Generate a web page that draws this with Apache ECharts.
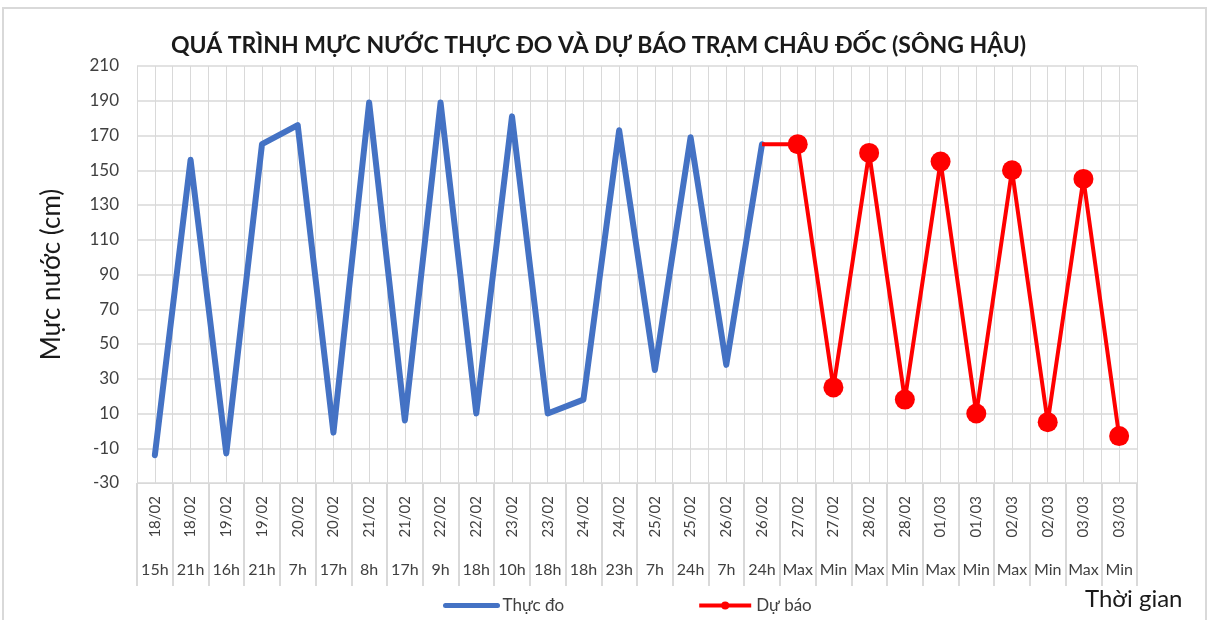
<!DOCTYPE html>
<html>
<head>
<meta charset="utf-8">
<title>Châu Đốc</title>
<script src="https://cdn.jsdelivr.net/npm/echarts@6/dist/echarts.min.js"></script>
<style>
  html, body { margin: 0; padding: 0; background: #fff; }
  #chart { width: 1209px; height: 620px; }
</style>
</head>
<body>
<div id="chart"></div>
<script>
// ngay / gio cua tung moc
const days = ['18/02', '18/02', '19/02', '19/02', '20/02', '20/02', '21/02', '21/02', '22/02', '22/02',
  '23/02', '23/02', '24/02', '24/02', '25/02', '25/02', '26/02', '26/02', '27/02', '27/02',
  '28/02', '28/02', '01/03', '01/03', '02/03', '02/03', '03/03', '03/03']
const hours = ['15h', '21h', '16h', '21h', '7h', '17h', '8h', '17h', '9h', '18h',
  '10h', '18h', '18h', '23h', '7h', '24h', '7h', '24h', 'Max', 'Min',
  'Max', 'Min', 'Max', 'Min', 'Max', 'Min', 'Max', 'Min']
// muc nuoc thuc do (cm)
const observed = [-14, 156, -13, 165, 176, -1, 189, 6, 189, 10, 181, 10, 18, 173, 35, 169, 38, 165]
// du bao: bat dau tu diem do cuoi cung (26/02 24h)
const forecastStart = 17
const forecast = [165, 165, 25, 160, 18, 155, 10, 150, 5, 145, -3]
const yTicks = { min: -30, max: 210, step: 20 }

const font = 'Lato, "Noto Sans", sans-serif'
const gridColor = '#d9d9d9'
const blue = '#4472c4'
const red = '#ff0000'

let obsData = days.map((d, i) => i < observed.length ? observed[i] : null)
let fcData = days.map((d, i) => {
  let k = i - forecastStart
  if (k < 0 || k >= forecast.length) return null
  if (k === 0) return { value: forecast[k], symbol: 'none' }
  return forecast[k]
})

let chart = echarts.init(document.getElementById('chart'))
chart.setOption({
  animation: false,
  textStyle: { fontFamily: font },
  title: {
    text: 'QUÁ TRÌNH MỰC NƯỚC THỰC ĐO VÀ DỰ BÁO TRẠM CHÂU ĐỐC (SÔNG HẬU)',
    left: 166,
    top: 29,
    textStyle: { fontFamily: font, fontSize: 23, fontWeight: 'bold', color: '#1a1a1a' }
  },
  legend: {
    left: 438,
    top: 592,
    itemWidth: 52,
    itemHeight: 10,
    itemGap: 133,
    textStyle: { fontFamily: font, fontSize: 17, color: '#404040' },
    data: [
      { name: 'Thực đo', itemStyle: { opacity: 0 }, lineStyle: { width: 5, color: blue } },
      { name: 'Dự báo', lineStyle: { width: 4, color: red } }
    ]
  },
  graphic: [
    {
      type: 'rect',
      shape: { x: 3, y: 8, width: 1203, height: 640 },
      style: { fill: 'none', stroke: '#d9d9d9', lineWidth: 2 },
      silent: true
    },
    {
      type: 'text',
      left: 1085,
      top: 587,
      style: { text: 'Thời gian', font: '24px ' + font, fill: '#1a1a1a' }
    }
  ],
  grid: { left: 137, right: 72, top: 66, bottom: 137 },
  xAxis: [
    {
      type: 'category',
      data: days,
      boundaryGap: true,
      axisLine: { onZero: false, lineStyle: { color: gridColor, width: 1 } },
      axisTick: { show: true, inside: false, interval: 0, length: 103, lineStyle: { color: gridColor, width: 2 } },
      axisLabel: { interval: 0, rotate: 90, margin: 13, fontSize: 15, color: '#404040', fontFamily: font },
      splitLine: { show: false }
    },
    {
      type: 'category',
      data: hours,
      boundaryGap: true,
      position: 'bottom',
      axisLine: { show: false, onZero: false },
      axisTick: { show: false },
      axisLabel: { interval: 0, margin: 79, fontSize: 16, color: '#404040', fontFamily: font },
      splitLine: { show: false }
    },
    {
      // luoi doc: ca bien va giua moi moc
      type: 'value',
      min: 0,
      max: days.length * 2,
      interval: 1,
      position: 'bottom',
      axisLine: { show: false, onZero: false },
      axisTick: { show: false },
      axisLabel: { show: false },
      splitLine: { show: true, lineStyle: { color: gridColor, width: 1 } }
    }
  ],
  yAxis: {
    type: 'value',
    min: yTicks.min,
    max: yTicks.max,
    interval: yTicks.step,
    name: 'Mực nước (cm)',
    nameLocation: 'middle',
    nameGap: 72,
    nameTextStyle: { fontFamily: font, fontSize: 26, color: '#1a1a1a' },
    axisLine: { show: false },
    axisTick: { show: false },
    axisLabel: { margin: 18, fontSize: 17, color: '#404040', fontFamily: font },
    splitLine: { lineStyle: { color: gridColor, width: 1.5 } }
  },
  series: [
    {
      name: 'Thực đo',
      type: 'line',
      xAxisIndex: 0,
      data: obsData,
      symbol: 'none',
      connectNulls: false,
      itemStyle: { color: blue },
      lineStyle: { color: blue, width: 6, cap: 'round', join: 'round' }
    },
    {
      name: 'Dự báo',
      type: 'line',
      xAxisIndex: 0,
      data: fcData,
      symbol: 'circle',
      symbolSize: 20,
      itemStyle: { color: red },
      lineStyle: { color: red, width: 4, join: 'round' }
    }
  ]
})
</script>
</body>
</html>
